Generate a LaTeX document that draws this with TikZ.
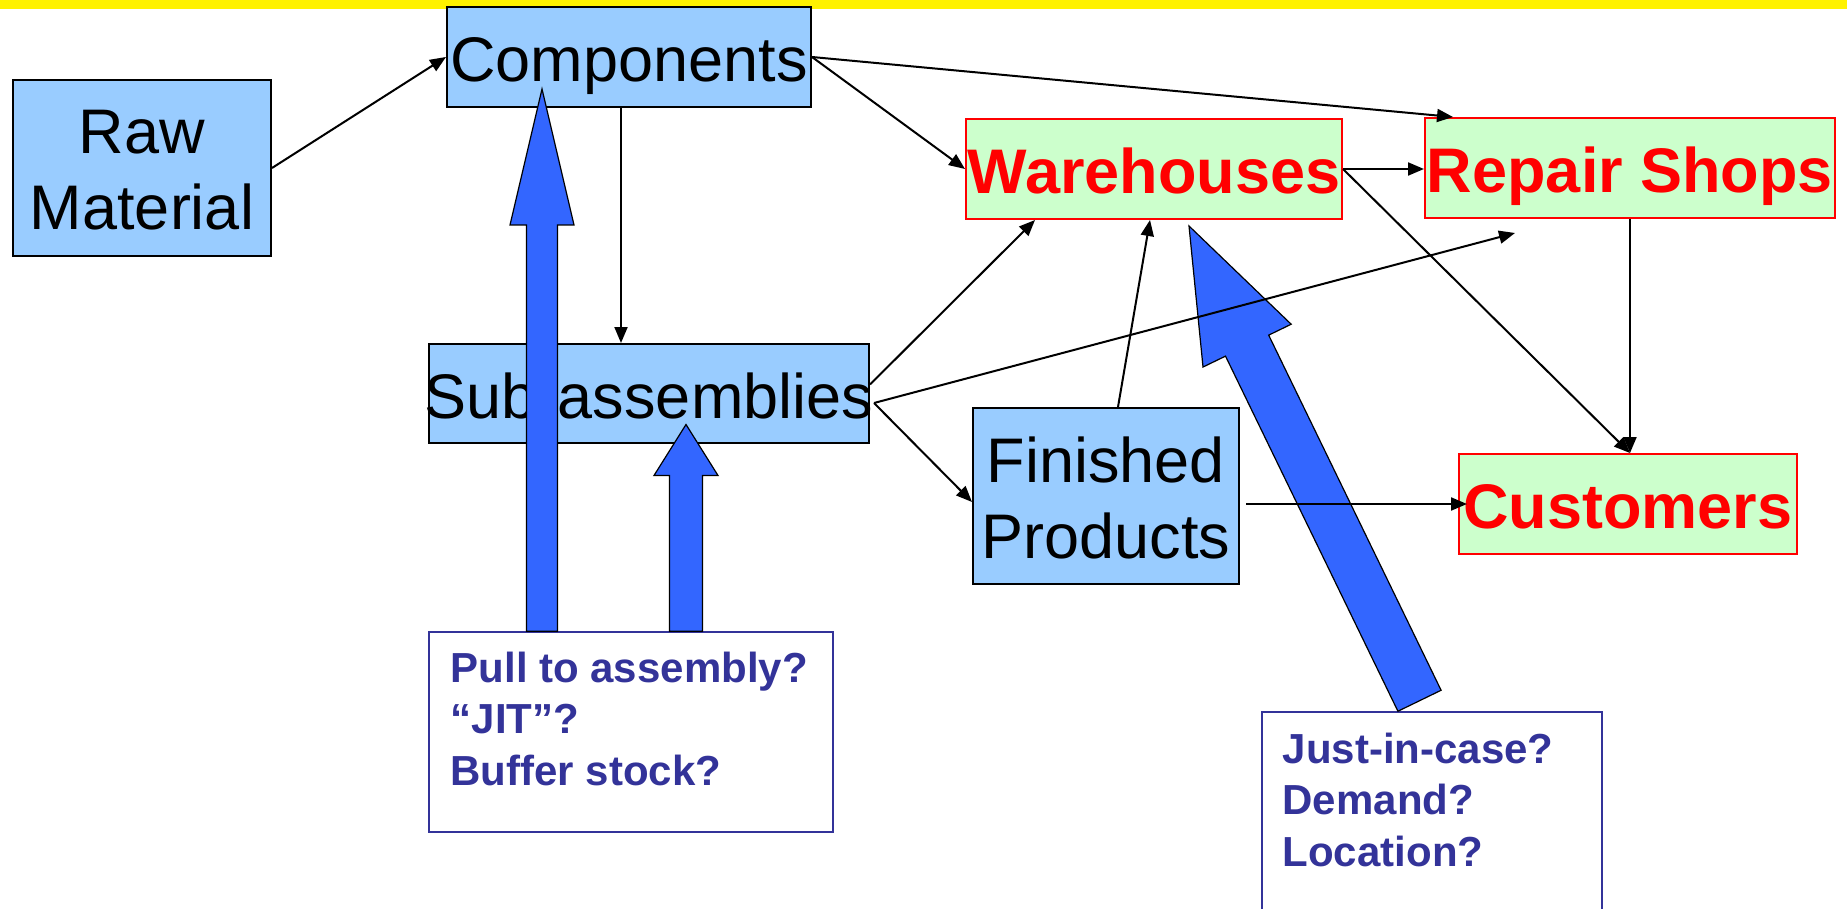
\documentclass[tikz,border=0pt]{standalone}
\usepackage{fontspec}
\setmainfont{Liberation Sans}
\usetikzlibrary{calc,arrows.meta}

\definecolor{boxblue}{HTML}{99CCFF}
\definecolor{boxgreen}{HTML}{CCFFCC}
\definecolor{arrowblue}{HTML}{3366FF}
\definecolor{noteblue}{HTML}{333399}

% block arrow: #1 tail, #2 tip, #3 shaft half-width, #4 head half-width, #5 head length
\newcommand{\pullarrow}[5]{%
  \coordinate (hb) at ($(#2)!#5!(#1)$);
  \filldraw[pull] ($(#1)!#3!90:(#2)$) -- ($(hb)!#3!90:(#2)$) -- ($(hb)!#4!90:(#2)$)
    -- (#2) -- ($(hb)!#4!-90:(#2)$) -- ($(hb)!#3!-90:(#2)$) -- ($(#1)!#3!-90:(#2)$) -- cycle;
}

\begin{document}
\begin{tikzpicture}[x=0.5pt,y=-0.5pt,
  stage/.style={draw=black, line width=1pt, fill=boxblue, inner sep=0pt, align=center,
    font=\fontsize{31.5pt}{38pt}\selectfont},
  outlet/.style={draw=red, line width=1pt, fill=boxgreen, inner sep=0pt, text=red,
    font=\fontsize{31.5pt}{38pt}\selectfont\bfseries},
  oneline/.style={text height=24.5pt, text depth=0pt},
  twoline/.style={text height=62pt, text depth=0pt},
  notebox/.style={draw=noteblue, line width=0.75pt, fill=white, inner sep=0pt},
  notetext/.style={inner sep=0pt, anchor=north west, align=left, text=noteblue,
    font=\fontsize{21pt}{25.75pt}\selectfont\bfseries},
  flow/.style={line width=1pt, -{Triangle[length=8pt,width=6.5pt]}},
  pull/.style={draw=black, line width=0.6pt, fill=arrowblue}]

\useasboundingbox (0,0) rectangle (1847,909);
\clip (0,0) rectangle (1847,909);

% title bar strip
\fill[yellow] (0,0) rectangle (1847,9.5);

% supply chain stages
\node[stage, twoline, minimum width=129pt, minimum height=88pt] (raw) at (142,168) {Raw\\Material};
\node[stage, oneline, minimum width=182pt, minimum height=50pt] (comp) at (629,57) {Components};
\node[stage, oneline, minimum width=220pt, minimum height=49.5pt] (sub) at (649,393.5) {\makebox[0pt]{Sub-assemblies}};
\node[stage, twoline, minimum width=133pt, minimum height=88pt] (fp) at (1106,496) {Finished\\Products};
\node[outlet, oneline, minimum width=188pt, minimum height=50pt] (wh) at (1154,169) {Warehouses};
\node[outlet, oneline, minimum width=205pt, minimum height=50pt] (repair) at (1630,168) {Repair Shops};
\node[outlet, oneline, minimum width=169pt, minimum height=50pt] (cust) at (1628,504) {Customers};

% question boxes
\node[notebox, minimum width=202pt, minimum height=100pt] (noteL) at (631,732) {};
\node[notebox, minimum width=170pt, minimum height=100pt] (noteR) at (1432,812) {};
\node[notetext] (noteLtext) at ($(noteL.north west)+(22,20)$) {Pull to assembly?\\“JIT”?\\Buffer stock?};
\node[notetext] (noteRtext) at ($(noteR.north west)+(21,21)$) {Just-in-case?\\Demand?\\Location?};

% block arrows from the questions
\coordinate (pA-tail) at ($(noteL.north)+(-89,0)$);
\coordinate (pA-tip) at ($(comp.south)+(-87,-19)$);
\coordinate (pB-tail) at ($(noteL.north)+(55,0)$);
\coordinate (pB-tip) at ($(sub.south)+(37,-19.5)$);
\coordinate (pC-tail) at ($(noteR.north)+(-12.5,-10.5)$);
\coordinate (pC-tip) at ($(wh.south)+(35,6)$);
\pullarrow{pA-tail}{pA-tip}{7.75pt}{16pt}{68pt}
\pullarrow{pB-tail}{pB-tip}{8.25pt}{16pt}{25.5pt}
\pullarrow{pC-tail}{pC-tip}{12pt}{24.5pt}{66.5pt}

% material flows
\draw[flow] (raw.east) -- (comp.west);
\draw[flow] (comp.east) -- ($(repair.north west)+(29,0)$);
\draw[flow] (comp.east) -- (wh.west);
\coordinate (c1) at ($(comp.south)+(-8,0)$);
\draw[flow] (c1) -- (c1 |- sub.north);
\coordinate (s1) at ($(sub.east)+(0,-9)$);
\coordinate (s2) at ($(sub.east)+(4,9.5)$);
\draw[flow] (s1) -- ($(wh.south)+(-119,0)$);
\draw[flow] (s2) -- ($(repair.south west)+(91,14)$);
\draw[flow] (s2) -- ($(fp.west)+(0,6)$);
\draw[flow] ($(fp.north)+(12,0)$) -- ($(wh.south)+(-4,0)$);
\draw[flow] (wh.east) -- (wh.east -| repair.west);
\draw[flow] (wh.east) -- ($(cust.north)+(2,0)$);
\draw[flow] (repair.south) -- (repair.south |- cust.north);
\draw[flow] ($(fp.east)+(6,8)$) -- ($(cust.west)+(9,0)$);

\end{tikzpicture}
\end{document}
